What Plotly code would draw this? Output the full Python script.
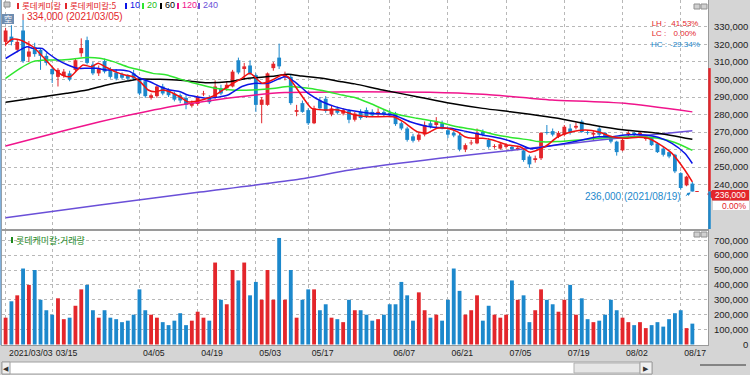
import plotly.graph_objects as go

# ---------------- data ----------------
month_days = {
    3: [3, 4, 5, 8, 9, 10, 11, 12, 15, 16, 17, 18, 19, 22, 23, 24, 25, 26, 29, 30, 31],
    4: [1, 2, 5, 6, 7, 8, 9, 12, 13, 14, 15, 16, 19, 20, 21, 22, 23, 26, 27, 28, 29, 30],
    5: [3, 4, 6, 7, 10, 11, 12, 13, 14, 17, 18, 20, 21, 24, 25, 26, 27, 28, 31],
    6: [1, 2, 3, 4, 7, 8, 9, 10, 11, 14, 15, 16, 17, 18, 21, 22, 23, 24, 25, 28, 29, 30],
    7: [1, 2, 5, 6, 7, 8, 9, 12, 13, 14, 15, 16, 19, 20, 21, 22, 23, 26, 27, 28, 29, 30],
    8: [2, 3, 4, 5, 6, 9, 10, 11, 12, 13, 17, 18, 19],
}
dates = [f"2021/{m:02d}/{d:02d}" for m, ds in month_days.items() for d in ds]

open_ = [321500, 324500, 317000, 328000, 313000, 318500, 317000, 313500, 306000, 301500,
         302000, 303500, 305500, 315000, 322500, 308500, 303500, 310500, 306000, 304000,
         303000, 302500, 303500, 300500, 299000, 289500, 290500, 296000, 294000, 292000,
         291000, 289500, 285000, 286000, 291500, 290000, 289500, 295000, 295000, 296000,
         311000, 306000, 308000, 302500, 285500, 285500, 306500, 312500, 301500, 301500,
         281500, 286500, 282500, 275000, 288000, 289000, 280000, 283500, 280500, 282000,
         277000, 281500, 282500, 281500, 280000, 281500, 281000, 280500, 275000, 272000,
         267500, 265500, 268500, 275000, 274000, 275000, 271000, 269500, 268000, 260000,
         263500, 263500, 270000, 265500, 261500, 260500, 261500, 261500, 260000, 259500,
         256000, 254000, 255000, 270000, 270500, 267500, 268500, 272000, 272500, 276000,
         270000, 268500, 272000, 269500, 267500, 264500, 259500, 268500, 269500, 268500,
         266000, 266500, 263500, 260500, 258500, 257000, 246500, 239500, 240500]
high = [329500, 331000, 323000, 334000, 322000, 321000, 318000, 315000, 308000, 306500,
        306000, 305000, 312000, 323500, 324500, 310000, 308000, 312000, 307000, 306000,
        304000, 303000, 305500, 301000, 300000, 292000, 297000, 297500, 295000, 293000,
        292000, 291000, 288000, 291000, 293500, 291000, 299500, 297000, 299000, 305500,
        312500, 309500, 311000, 303500, 290000, 304000, 310000, 320500, 304500, 303000,
        285500, 288000, 283500, 285000, 290000, 290500, 285000, 284500, 283500, 283000,
        281500, 283000, 284000, 283000, 283500, 283000, 282500, 281500, 276000, 273000,
        269000, 269500, 276000, 276500, 278500, 276500, 272000, 270500, 269000, 263500,
        265500, 272000, 271500, 266500, 263000, 264000, 263500, 262500, 262000, 260500,
        257000, 256500, 270000, 274000, 272000, 270500, 274000, 274500, 275500, 277000,
        271000, 270500, 273000, 270000, 268000, 265000, 266500, 270500, 270000, 270500,
        268000, 267000, 264000, 261500, 259000, 257500, 247000, 245000, 241500]
low = [319000, 319500, 315500, 309500, 310000, 313000, 305500, 308000, 298000, 296000,
       301000, 299000, 304500, 313000, 308500, 302500, 302000, 303500, 300500, 299500,
       300000, 299500, 299500, 291000, 289500, 288500, 289500, 291000, 290000, 287500,
       286500, 283000, 284000, 285000, 290500, 286000, 289000, 291000, 293500, 295500,
       303000, 300000, 302500, 281500, 275000, 285000, 305000, 306000, 299500, 285500,
       279000, 281000, 274000, 274500, 282500, 281000, 279000, 280000, 279500, 275000,
       276000, 277000, 278000, 278500, 279000, 279000, 278500, 273500, 271000, 264500,
       264000, 264500, 267500, 272000, 272500, 271500, 266500, 267000, 259000, 258500,
       262500, 263000, 267500, 260500, 260500, 260000, 260500, 259000, 259500, 253000,
       249500, 252500, 254000, 268500, 267500, 266500, 267500, 268500, 271500, 269500,
       268500, 265000, 267500, 266500, 263500, 256500, 259000, 267500, 267500, 267500,
       265000, 262000, 258000, 256000, 255000, 246500, 237000, 239000, 236000]
close = [328000, 321500, 321500, 310500, 316000, 314500, 313500, 309500, 303000, 305500,
         304500, 300000, 311000, 318000, 309500, 303500, 306500, 304500, 301500, 300500,
         301000, 300500, 300500, 292000, 290500, 291000, 296000, 292000, 291000, 288500,
         288000, 285500, 286500, 290000, 292000, 287000, 296000, 292000, 297000, 304500,
         304000, 307500, 303500, 285500, 288500, 303500, 309000, 307500, 303000, 286500,
         282500, 281500, 275000, 283500, 283500, 282000, 283500, 281000, 282500, 277000,
         280500, 278000, 279000, 279500, 281500, 280000, 279500, 274500, 272000, 265500,
         265000, 268500, 274000, 273000, 276000, 272000, 268500, 268000, 260000, 262500,
         264000, 269500, 268500, 261500, 262000, 263000, 262500, 260000, 261000, 254000,
         251500, 255000, 269500, 269500, 268500, 269500, 273000, 269500, 273500, 270000,
         269500, 269500, 268500, 267500, 264500, 258500, 265500, 269500, 268500, 269500,
         267500, 262500, 258500, 257000, 256000, 247500, 238000, 244500, 236000]
volume = [180000, 290000, 330000, 510000, 400000, 500000, 300000, 230000, 200000, 310000,
          170000, 180000, 260000, 370000, 400000, 230000, 180000, 230000, 180000, 170000,
          150000, 160000, 200000, 370000, 230000, 200000, 180000, 150000, 130000, 160000,
          210000, 130000, 160000, 220000, 180000, 160000, 550000, 300000, 270000, 500000,
          430000, 550000, 330000, 420000, 300000, 500000, 300000, 715000, 300000, 500000,
          180000, 300000, 370000, 370000, 230000, 270000, 180000, 170000, 150000, 300000,
          230000, 230000, 200000, 160000, 170000, 200000, 270000, 270000, 420000, 330000,
          160000, 350000, 230000, 180000, 200000, 160000, 300000, 510000, 360000, 200000,
          230000, 330000, 160000, 260000, 200000, 180000, 200000, 430000, 300000, 330000,
          150000, 230000, 370000, 300000, 270000, 220000, 300000, 400000, 200000, 310000,
          170000, 150000, 160000, 200000, 300000, 230000, 180000, 150000, 130000, 150000,
          110000, 130000, 150000, 120000, 170000, 210000, 230000, 110000, 140000]

# moving averages (position in trading-day index, value)
ma5_pos = [0, 1.1, 2.5, 4.7, 6.4, 8.5, 9.7, 11.1, 12.3, 13.3, 14.8, 15.9, 17.1, 18.8, 20.5,
           21.9, 23.4, 24.5, 25.7, 27.0, 28.2, 30.0, 31.3, 33.7, 36.0, 38.2, 40.6, 42.0, 44.1,
           45.8, 47.5, 48.5, 50.2, 51.4, 52.6, 54.9, 57.1, 58.8, 60.0, 62.6, 66.6, 68.3, 70.7,
           72.4, 74.1, 75.8, 77.6, 78.9, 80.3, 82.0, 83.7, 86.2, 88.4, 90.1, 92.7, 94.9, 97.3,
           99.6, 101.8, 104.2, 106.4, 108.7, 110.4, 112.1, 114.5, 116.7, 118]
ma5_val = [320000, 323000, 322600, 318700, 313000, 305400, 302600, 301600, 305400, 308300,
           307300, 309300, 307300, 304500, 302600, 301600, 297800, 294000, 293000, 294000,
           293000, 290000, 287300, 288300, 291100, 296000, 300700, 303500, 297800, 299700,
           302600, 301600, 294000, 288300, 283500, 282600, 282600, 281000, 279700, 278700,
           278700, 275900, 270200, 269300, 272100, 272100, 270200, 267300, 266400, 266400,
           265400, 262600, 261600, 258500, 261600, 267300, 270200, 271100, 270200, 267300,
           266400, 267000, 266400, 263500, 257800, 248300, 241500]
ma10_pos = [0, 3.7, 4.7, 6.3, 7.3, 9.0, 10.7, 12.4, 14.0, 15.7, 17.4, 19.7, 21.4, 23.1, 24.8,
            26.5, 28.2, 30.0, 31.3, 34.8, 38.2, 40.6, 42.9, 45.1, 48.0, 49.7, 52.0, 54.4, 56.6,
            58.8, 60.0, 62.6, 66.6, 69.5, 72.9, 76.4, 79.3, 82.0, 85.0, 87.9, 90.1, 92.7, 96.1,
            99.6, 101.8, 104.2, 106.4, 109.9, 112.1, 114.5, 116.7, 118]
ma10_val = [312000, 318700, 317800, 317800, 315000, 311100, 308300, 306400, 306400, 306400,
            305400, 305400, 304500, 300700, 298700, 296000, 294000, 293000, 291100, 289300,
            291100, 296000, 297800, 297800, 301600, 298700, 292100, 287300, 284500, 282600,
            282000, 280700, 279700, 275900, 273000, 272100, 270200, 268300, 266400, 263500,
            260500, 261600, 263500, 265800, 267300, 267300, 268300, 268300, 267000, 263500,
            257800, 252000]
ma20_pos = [0, 2.5, 4.7, 7.1, 9.3, 11.6, 14.0, 16.2, 18.5, 20.9, 23.1, 25.3, 27.7, 30.0, 32.5,
            36.0, 38.9, 42.3, 46.3, 48.5, 52.0, 55.4, 57.8, 60.0, 62.6, 66.6, 70.7, 74.1, 77.6,
            81.0, 84.4, 87.9, 90.1, 91.5, 94.9, 98.4, 101.8, 105.2, 108.7, 112.1, 115.0, 118]
ma20_val = [300700, 306400, 310200, 311100, 311100, 311700, 312500, 312100, 310200, 307300,
            305400, 303500, 302600, 300200, 297800, 295000, 294000, 294000, 295000, 296000,
            295000, 293000, 291100, 289700, 286400, 280700, 277800, 275900, 273000, 271100,
            268300, 266400, 265400, 264500, 264500, 265400, 266400, 267000, 267300, 266400,
            264000, 259500]
ma60_pos = [0, 4.7, 10.5, 14.0, 17.4, 20.9, 23.1, 26.5, 30.0, 34.3, 38.2, 41.7, 46.3, 48.5,
            50.9, 54.4, 57.8, 60.0, 64.8, 70.7, 76.4, 82.0, 86.7, 90.1, 94.9, 100.8, 106.4,
            112.1, 118]
ma60_val = [287000, 289300, 292100, 294000, 296900, 299100, 300300, 300100, 299600, 298200,
            298700, 300700, 302000, 303000, 302000, 300700, 298700, 297500, 294000, 290200,
            286400, 283500, 281600, 280200, 277800, 274000, 271100, 269300, 265800]
ma120_pos = [0, 10.5, 16.2, 21.9, 30.0, 36.0, 42.9, 48.0, 53.2, 60.0, 72.9, 82.0, 90.1, 93.9,
             106.4, 118]
ma120_val = [262000, 271100, 275900, 280100, 285400, 288300, 291100, 292500, 292700, 293000,
             292700, 291500, 289300, 288300, 286400, 281500]
ma240_pos = [0, 16.2, 33.4, 50.6, 59.2, 74.6, 90.1, 102.1, 110.7, 118]
ma240_val = [221000, 228300, 235700, 243100, 248300, 255000, 260700, 265400, 268300, 270700]

tick_dates = ["2021/03/03", "2021/03/15", "2021/04/05", "2021/04/19", "2021/05/03", "2021/05/17",
              "2021/06/07", "2021/06/21", "2021/07/05", "2021/07/19", "2021/08/02", "2021/08/17"]
tick_text = ["2021/03/03", "03/15", "04/05", "04/19", "05/03", "05/17",
             "06/07", "06/21", "07/05", "07/19", "08/02", "08/17"]
price_ticks = list(range(240000, 340000, 10000))
vol_ticks = list(range(0, 800000, 100000))

high_text = "334,000 (2021/03/05)"
low_text = "236,000 (2021/08/19)"
last_price = 236000
rate_rows = [("LH :", "41.53%", "#e3262b"), ("LC :", "0.00%", "#e3262b"), ("HC :", "-29.34%", "#1c88cc")]
legend_items = [("롯데케미칼", "#e3262b"), ("롯데케미칼:5", "#e3262b"), ("10", "#0a14e6"),
                ("20", "#2fe62f"), ("60", "#000000"), ("120", "#f0148c"), ("240", "#6a4fd8")]

# ---------------- style ----------------
RED = "#e3262b"
BLUE = "#1c88cc"
BG = "#d5d5d5"
GRID = "#b8b8b8"
NUMFONT = "Liberation Sans, Arial, sans-serif"
KRFONT = "Noto Sans CJK KR, Noto Sans, sans-serif"
MA_COLORS = {"5": "#f01010", "10": "#0a14e6", "20": "#2fe62f", "60": "#000000",
             "120": "#f0148c", "240": "#6a4fd8"}

n = len(dates)
idx = list(range(n))
up = [c >= o for o, c in zip(open_, close)]
tick_idx = [dates.index(d) for d in tick_dates]

L, R, T, B = 2, 42, 0, 30
W, H = 750, 375
PW, PH = W - L - R, H - T - B


def px(x):
    return (x - L) / PW


def py(y):
    return (H - B - y) / PH


fig = go.Figure()

# wicks
for flag, col in ((True, RED), (False, BLUE)):
    wx, wy = [], []
    for i in idx:
        if up[i] == flag:
            wx += [i, i, None]
            wy += [low[i], high[i], None]
    fig.add_trace(go.Scatter(x=wx, y=wy, mode="lines", line=dict(color=col, width=1),
                             hoverinfo="skip", xaxis="x", yaxis="y"))

# bodies
fig.add_trace(go.Bar(x=idx, y=[max(abs(c - o), 500) for o, c in zip(open_, close)],
                     base=[min(o, c) for o, c in zip(open_, close)], width=0.66,
                     marker=dict(color=[RED if u else BLUE for u in up], line=dict(width=0)),
                     xaxis="x", yaxis="y"))

# moving averages
for pos, val, key in ((ma240_pos, ma240_val, "240"), (ma120_pos, ma120_val, "120"),
                      (ma60_pos, ma60_val, "60"), (ma20_pos, ma20_val, "20"),
                      (ma10_pos, ma10_val, "10"), (ma5_pos, ma5_val, "5")):
    fig.add_trace(go.Scatter(x=pos, y=val, mode="lines",
                             line=dict(color=MA_COLORS[key], width=1.5, shape="spline", smoothing=0.6),
                             hoverinfo="skip", xaxis="x", yaxis="y"))

# volume
fig.add_trace(go.Bar(x=idx, y=volume, width=0.66,
                     marker=dict(color=[RED if u else BLUE for u in up], line=dict(width=0)),
                     xaxis="x2", yaxis="y2"))

xr = [-(5.6 - L) / 5.82, -(5.6 - L) / 5.82 + PW / 5.82]
p_top = 240000 + (184.5 - 0) * 571.4
p_bot = 240000 + (184.5 - 229) * 571.4
v_top = (344.5 - 231) / 14.9 * 100000
v_bot = (344.5 - 345) / 14.9 * 100000

tickfont = dict(family=NUMFONT, size=9.5, color="#222222")
axis_common = dict(range=xr, tickvals=tick_idx, showgrid=True, gridcolor=GRID, griddash="dot",
                   gridwidth=1, zeroline=False, showline=True, linecolor="#9a9a9a", mirror=True,
                   ticks="", fixedrange=True)
fig.update_layout(
    width=W, height=H, margin=dict(l=L, r=R, t=T, b=B),
    paper_bgcolor=BG, plot_bgcolor="white", showlegend=False, barmode="overlay",
    font=dict(family=NUMFONT, size=10, color="#222222"),
    xaxis=dict(axis_common, domain=[0, 1], anchor="y", showticklabels=False),
    xaxis2=dict(axis_common, domain=[0, 1], anchor="y2", matches="x", ticktext=tick_text,
                showticklabels=True, ticklabelposition="outside right", tickangle=0,
                ticklabelshift=3, tickfont=dict(tickfont, size=8.7)),
    yaxis=dict(domain=[py(229), 1], range=[p_bot, p_top], side="right", tickvals=price_ticks,
               ticktext=[f"{v:,}" for v in price_ticks], showgrid=True, gridcolor=GRID,
               griddash="dot", zeroline=False, showline=True, linecolor="#9a9a9a", mirror=True,
               ticks="", ticklabelstandoff=3, tickfont=tickfont, fixedrange=True),
    yaxis2=dict(domain=[0, py(231)], range=[v_bot, v_top], side="right", tickvals=vol_ticks,
                ticktext=[f"{v:,}" if v else "\u00a0" * 11 + "0" for v in vol_ticks],
                showgrid=True, gridcolor=GRID, griddash="dot", zeroline=False, showline=True,
                linecolor="#9a9a9a", mirror=True, ticks="", ticklabelstandoff=3,
                tickfont=tickfont, fixedrange=True),
)

ann = []
shapes = []


def text(x, y, s, color, size=9.5, family=NUMFONT, xanchor="left", pad=1):
    ann.append(dict(x=px(x), y=py(y), xref="paper", yref="paper", text=s, showarrow=False,
                    xanchor=xanchor, yanchor="middle", borderpad=pad,
                    font=dict(family=family, size=size, color=color)))


def rect(x0, y0, x1, y1, fill, line=None):
    shapes.append(dict(type="rect", xref="paper", yref="paper", x0=px(x0), x1=px(x1), y0=py(y0), y1=py(y1),
                       fillcolor=fill, line=dict(width=1 if line else 0, color=line or fill), layer="above"))


# legend line at the top
legend_x = [17, 65, 125, 142, 160, 177, 198]
for (label, col), lx in zip(legend_items, legend_x):
    rect(lx, 3, lx + 2, 9, col)
    text(lx + 3, 5.5, label, "#20c020" if label == "20" else col, 8.5 if not label.isdigit() else 9,
         KRFONT if not label.isdigit() else NUMFONT)

text(25, 16.5, high_text, RED, 10)
# LH / LC / HC block (two aligned columns, one text block each)
lab_block = "<br>".join(f"<span style='color:{c}'>{lab}</span>" for lab, _, c in rate_rows)
val_block = "<br>".join(f"<span style='color:{c}'>{v}</span>" for _, v, c in rate_rows)
text(650, 34, lab_block, RED, 8, NUMFONT, "left", 0)
text(701, 34, val_block, RED, 8, NUMFONT, "right", 0)
text(683, 196.5, low_text, BLUE, 10, NUMFONT, "right")
rect(11, 237, 13, 243, "#1f8a1f")
text(14, 240, "롯데케미칼:거래량", "#1f8a1f", 9, KRFONT)
text(730.5, 195.3, f"{last_price:,}", "white", 8.5, NUMFONT, "center", 0)
text(748, 205.5, "0.00%", RED, 8.5, NUMFONT, "right", 0)
ann.append(dict(x=118, y=last_price, xref="x", yref="y", text="", showarrow=True, ax=-8, ay=5,
                arrowhead=2, arrowsize=0.7, arrowwidth=1, arrowcolor=BLUE, standoff=2))
text(6, 368, "◀", "#333", 7, NUMFONT, "center")
text(646, 368, "▶", "#333", 7, NUMFONT, "center")

# icons
rect(4, 2, 10, 7, "#c8c8c8", "#909090")
rect(2, 14, 14, 24, "#6f8db0")
text(8, 19, "空", "white", 8, KRFONT, "center")
rect(694, 4, 700, 9, "#d0d0d0", "#909090")
rect(701, 4, 707, 9, "#d0d0d0", "#909090")
rect(694, 232, 700, 237, "#d0d0d0", "#909090")
rect(701, 232, 707, 237, "#d0d0d0", "#909090")
# current price tag on the axis
rect(712, 190, 749, 200.5, RED)
rect(713, 201, 749, 210, "white")
shapes.append(dict(type="path", xref="paper", yref="paper",
                   path=f"M {px(707)} {py(194)} L {px(712)} {py(190.5)} L {px(712)} {py(198.5)} Z",
                   fillcolor=RED, line=dict(width=0)))
# price position bar at the right edge
shapes.append(dict(type="line", xref="paper", yref="y", x0=px(709.5), x1=px(709.5),
                   y0=last_price, y1=306500, line=dict(color=RED, width=2.5)))
shapes.append(dict(type="line", xref="paper", yref="y", x0=px(709.5), x1=px(709.5),
                   y0=p_bot, y1=last_price, line=dict(color=BLUE, width=2.5)))
# last price dash
shapes.append(dict(type="line", xref="x", yref="y", x0=118.5, x1=119.1, y0=last_price, y1=last_price,
                   line=dict(color=RED, width=1)))
# high marker
shapes.append(dict(type="line", xref="x", yref="y", x0=3, x1=3, y0=334000, y1=337500,
                   line=dict(color=RED, width=1)))
# scrollbar
rect(2, 362, 652, 374, "white", "#a0a0a0")
rect(574, 363, 640, 373, "#e6e6e6", "#b0b0b0")
rect(2, 362, 10, 374, "#f0f0f0", "#a0a0a0")
rect(640, 362, 652, 374, "#f0f0f0", "#a0a0a0")
shapes.append(dict(type="line", xref="paper", yref="paper", x0=px(700), x1=px(746), y0=py(365), y1=py(365),
                   line=dict(color="#333", width=1)))
shapes.append(dict(type="line", xref="paper", yref="paper", x0=px(0.5), x1=px(0.5), y0=py(0), y1=py(345),
                   line=dict(color="#7fb0dc", width=1.5)))
fig.update_layout(annotations=ann, shapes=shapes)

fig.write_html("out.html", config={"displayModeBar": False, "staticPlot": True},
               post_script="document.body.style.margin='0';document.body.style.overflow='hidden';")
